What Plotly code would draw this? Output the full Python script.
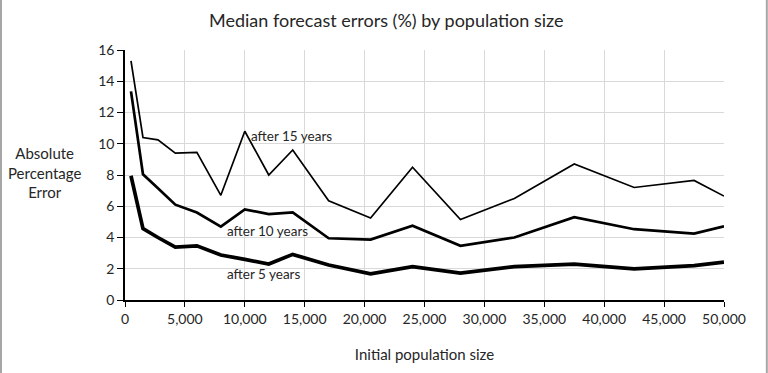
import plotly.graph_objects as go

population = [500, 1500, 2750, 4200, 6000, 8000, 10000, 12000, 14000, 17000,
              20500, 24000, 28000, 32500, 37500, 42500, 47500, 50000]
after_15 = [15.3, 10.4, 10.25, 9.4, 9.45, 6.7, 10.8, 8.0, 9.6, 6.35,
            5.25, 8.5, 5.15, 6.5, 8.7, 7.2, 7.65, 6.65]
after_10 = [13.35, 8.05, 7.15, 6.1, 5.6, 4.7, 5.8, 5.5, 5.6, 3.95,
            3.87, 4.75, 3.47, 4.0, 5.3, 4.53, 4.25, 4.72]
after_5 = [7.95, 4.57, 4.0, 3.38, 3.47, 2.88, 2.6, 2.3, 2.92, 2.24,
           1.68, 2.14, 1.72, 2.13, 2.3, 1.99, 2.2, 2.42]

x_ticks = [0, 5000, 10000, 15000, 20000, 25000, 30000, 35000, 40000, 45000, 50000]
y_ticks = [0, 2, 4, 6, 8, 10, 12, 14, 16]

FONT = "Lato, 'Open Sans', sans-serif"
TXT = "#262626"

fig = go.Figure()
fig.add_trace(go.Scatter(x=population, y=after_15, mode="lines",
                         line=dict(color="black", width=1.7), name="after 15 years"))
fig.add_trace(go.Scatter(x=population, y=after_10, mode="lines",
                         line=dict(color="black", width=2.7), name="after 10 years"))
fig.add_trace(go.Scatter(x=population, y=after_5, mode="lines",
                         line=dict(color="black", width=3.7), name="after 5 years"))

labels = [("after 15 years", 10000, 10.5), ("after 10 years", 8000, 4.4), ("after 5 years", 8000, 1.65)]
for text, x, y in labels:
    fig.add_annotation(x=x, y=y, text=text, showarrow=False, xanchor="left",
                       yanchor="middle", xshift=4,
                       font=dict(family=FONT, size=13.5, color=TXT))

fig.add_annotation(xref="paper", yref="paper", x=-0.135, y=0.51,
                   text="Absolute<br>Percentage<br>Error", showarrow=False,
                   xanchor="center", yanchor="middle", align="center",
                   font=dict(family=FONT, size=15, color=TXT))

# outer frame lines
fig.add_shape(type="line", xref="paper", yref="paper", x0=-0.207, x1=-0.207,
              y0=-0.3, y1=1.25, line=dict(color="#a6a6a6", width=2))
fig.add_shape(type="line", xref="paper", yref="paper", x0=1.0715, x1=1.0715,
              y0=-0.3, y1=1.25, line=dict(color="#a6a6a6", width=2))

fig.update_layout(
    width=768, height=373,
    margin=dict(l=125, r=44, t=50, b=71),
    paper_bgcolor="white", plot_bgcolor="white",
    showlegend=False,
    title=dict(text="Median forecast errors (%) by population size",
               x=0.503, xanchor="center", y=0.945, yanchor="middle",
               font=dict(family=FONT, size=18, color=TXT)),
    font=dict(family=FONT, size=14, color=TXT),
)
fig.update_xaxes(range=[0, 50000], tickvals=x_ticks,
                 ticktext=[f"{v:,}" for v in x_ticks],
                 showgrid=True, gridcolor="#d9d9d9", gridwidth=1,
                 showline=True, linecolor="black", linewidth=1.5,
                 ticks="outside", ticklen=5, tickcolor="black",
                 tickfont=dict(family=FONT, size=14, color=TXT),
                 zeroline=False,
                 title=dict(text="Initial population size", standoff=24,
                            font=dict(family=FONT, size=15, color=TXT)))
fig.update_yaxes(range=[0, 16], tickvals=y_ticks,
                 showgrid=True, gridcolor="#d9d9d9", gridwidth=1,
                 showline=True, linecolor="black", linewidth=1.5,
                 ticks="outside", ticklen=6, tickcolor="black",
                 tickfont=dict(family=FONT, size=14, color=TXT),
                 zeroline=False)

fig.write_html("out.html", config={"displayModeBar": False},
               post_script="document.body.style.margin='0';")
